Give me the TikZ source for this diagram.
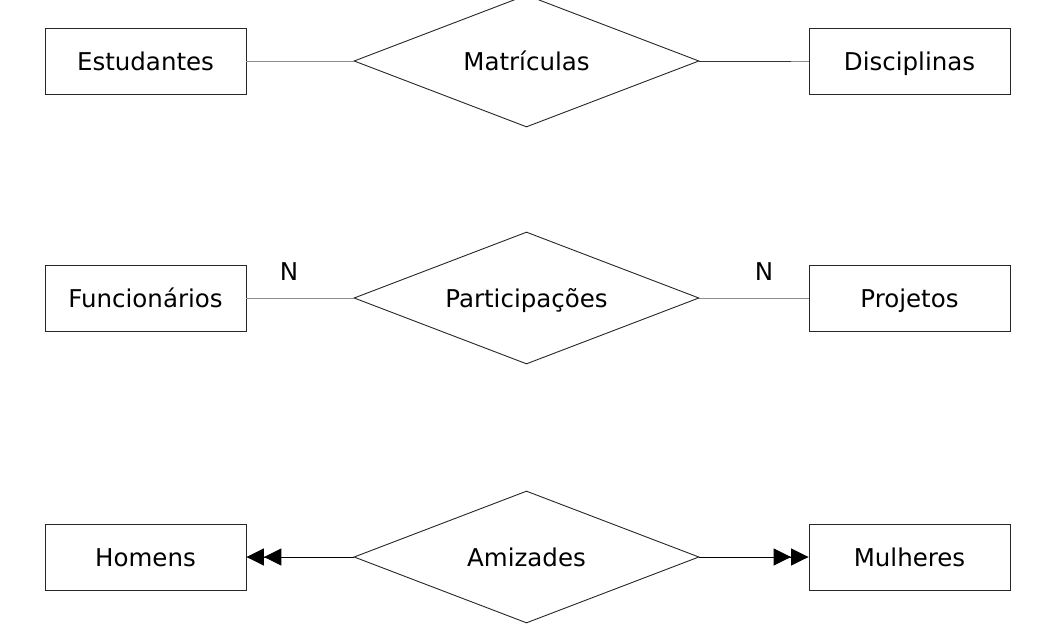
\documentclass[tikz,border=0pt]{standalone}
\usepackage{fontspec}
\setmainfont{DejaVu Sans}
\usetikzlibrary{shapes.geometric,arrows.meta}
\begin{document}
\begin{tikzpicture}[x=1pt,y=-1pt,
  txt/.style={font=\fontsize{24.5}{28}\selectfont,text height=18pt,text depth=0pt},
  ent/.style={txt,draw=black!85,line width=0.9pt,minimum width=201pt,minimum height=66pt,inner sep=0pt},
  rel/.style={txt,draw=black!85,line width=0.9pt,shape=diamond,aspect=2.61,minimum width=345pt,minimum height=132pt,inner sep=0pt},
  lbl/.style={txt,inner sep=0pt},
  gline/.style={draw=black!45,line width=1pt},
  dline/.style={draw=black,line width=1pt},
  dbl/.style={-{Triangle[length=17.5pt,width=17pt]Triangle[length=17.5pt,width=17pt]}}
]
\useasboundingbox (0,0) rectangle (1047,637);
% row 1
\node[ent] (est) at (145.5,61) {Estudantes};
\node[rel] (mat) at (526.5,61) {Matrículas};
\node[ent] (dis) at (909.5,61) {Disciplinas};
\coordinate (m1) at (791,61);
\draw[gline] (est.east) -- (mat.west);
\draw[dline,draw=black!80] (mat.east) -- (m1);
\draw[gline] (m1) -- (dis.west);
% row 2
\node[ent] (fun) at (145.5,298) {Funcionários};
\node[rel] (par) at (526.5,298) {Participações};
\node[ent] (pro) at (909.5,298) {Projetos};
\draw[gline] (fun.east) -- (par.west);
\draw[gline] (par.east) -- (pro.west);
\node[lbl] (n1) at (289,271) {N};
\node[lbl] (n2) at (764,271) {N};
% row 3
\node[ent] (hom) at (145.5,557) {Homens};
\node[rel] (ami) at (526.5,557) {Amizades};
\node[ent] (mul) at (909.5,557) {Mulheres};
\draw[dline,dbl] (ami.west) -- (hom.east);
\draw[dline,dbl] (ami.east) -- (mul.west);
\end{tikzpicture}
\end{document}
